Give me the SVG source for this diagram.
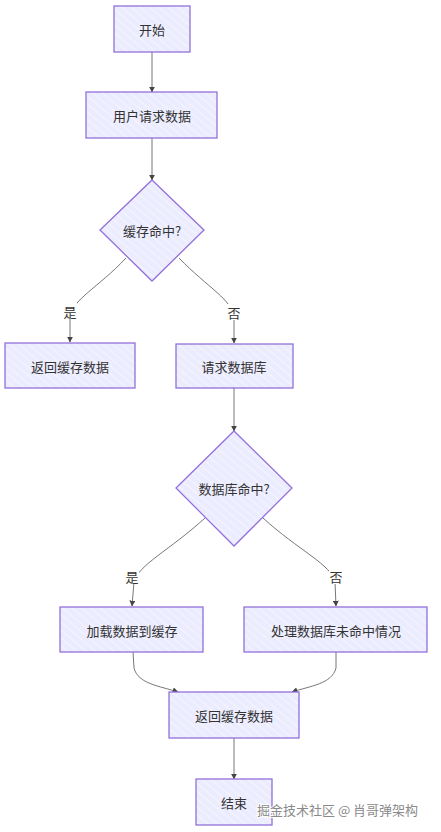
<svg xmlns="http://www.w3.org/2000/svg" width="441" height="832" viewBox="0 0 441 832">
<defs>
<pattern id="hatch" width="6" height="6" patternUnits="userSpaceOnUse" patternTransform="rotate(-50)">
<rect width="6" height="6" fill="#ececff"/>
<line x1="0" y1="0" x2="0" y2="6" stroke="#ffffff" stroke-width="1.2" stroke-opacity="0.8"/>
</pattern>
<marker id="arr" viewBox="0 0 10 10" refX="9" refY="5" markerWidth="6" markerHeight="6" orient="auto">
<path d="M0,0 L10,5 L0,10 z" fill="#444"/>
</marker>
<style>
.n{fill:url(#hatch);stroke:#9370db;stroke-width:1.3}
.t{font-family:"Noto Sans CJK SC","Liberation Sans",sans-serif;font-size:13px;fill:#333;text-anchor:middle;dominant-baseline:central}
.e{fill:none;stroke:#777;stroke-width:1;marker-end:url(#arr)}
.lb{fill:#ffffff}
.wm{font-family:"Noto Sans CJK SC","Liberation Sans",sans-serif;font-size:13px;fill:#8a8a8a;stroke:#ffffff;stroke-width:2;paint-order:stroke}
</style>
</defs>
<rect width="441" height="832" fill="#ffffff"/>
<g id="edges">
<path class="e" d="M152,52 L152,92"/>
<path class="e" d="M152,138 L152,180"/>
<path class="e" d="M126,258 C98,288 71,300 70,318 L70,342"/>
<path class="e" d="M179,258 C208,288 233,300 234,318 L234,343"/>
<path class="e" d="M234,388 L234,431"/>
<path class="e" d="M205,518 C170,550 138,565 134,582 L132,606"/>
<path class="e" d="M263,518 C298,550 332,565 335,582 L336,606"/>
<path class="e" d="M133,652 L134,668 C138,684 160,686 178,692"/>
<path class="e" d="M336,652 L336,668 C332,684 310,686 292,692"/>
<path class="e" d="M234,738 L234,779"/>
<rect class="lb" x="63" y="303" width="14" height="16"/>
<text class="t" x="70" y="311">是</text>
<rect class="lb" x="227" y="304" width="14" height="16"/>
<text class="t" x="234" y="312">否</text>
<rect class="lb" x="125" y="568" width="14" height="16"/>
<text class="t" x="132" y="576">是</text>
<rect class="lb" x="329" y="568" width="14" height="16"/>
<text class="t" x="336" y="576">否</text>
</g>
<g id="start"><rect class="n" x="114" y="6" width="76" height="46"/><text class="t" x="152" y="29">开始</text></g>
<g id="request"><rect class="n" x="86" y="92" width="131" height="46"/><text class="t" x="152" y="115">用户请求数据</text></g>
<g id="cacheHit"><polygon class="n" points="152,180 204,230 152,281 100,230"/><text class="t" x="152" y="230">缓存命中?</text></g>
<g id="returnCache1"><rect class="n" x="5" y="343" width="130" height="45"/><text class="t" x="70" y="366">返回缓存数据</text></g>
<g id="queryDb"><rect class="n" x="176" y="344" width="117" height="44"/><text class="t" x="234" y="366">请求数据库</text></g>
<g id="dbHit"><polygon class="n" points="234,431 292,488 234,546 176,488"/><text class="t" x="234" y="488">数据库命中?</text></g>
<g id="loadCache"><rect class="n" x="60" y="607" width="143" height="45"/><text class="t" x="132" y="630">加载数据到缓存</text></g>
<g id="handleMiss"><rect class="n" x="244" y="607" width="183" height="45"/><text class="t" x="336" y="630">处理数据库未命中情况</text></g>
<g id="returnCache2"><rect class="n" x="169" y="692" width="130" height="46"/><text class="t" x="234" y="715">返回缓存数据</text></g>
<g id="end"><rect class="n" x="196" y="779" width="76" height="46"/><text class="t" x="234" y="802">结束</text></g>
<text class="wm" x="257" y="815">掘金技术社区 @ 肖哥弹架构</text>
</svg>
